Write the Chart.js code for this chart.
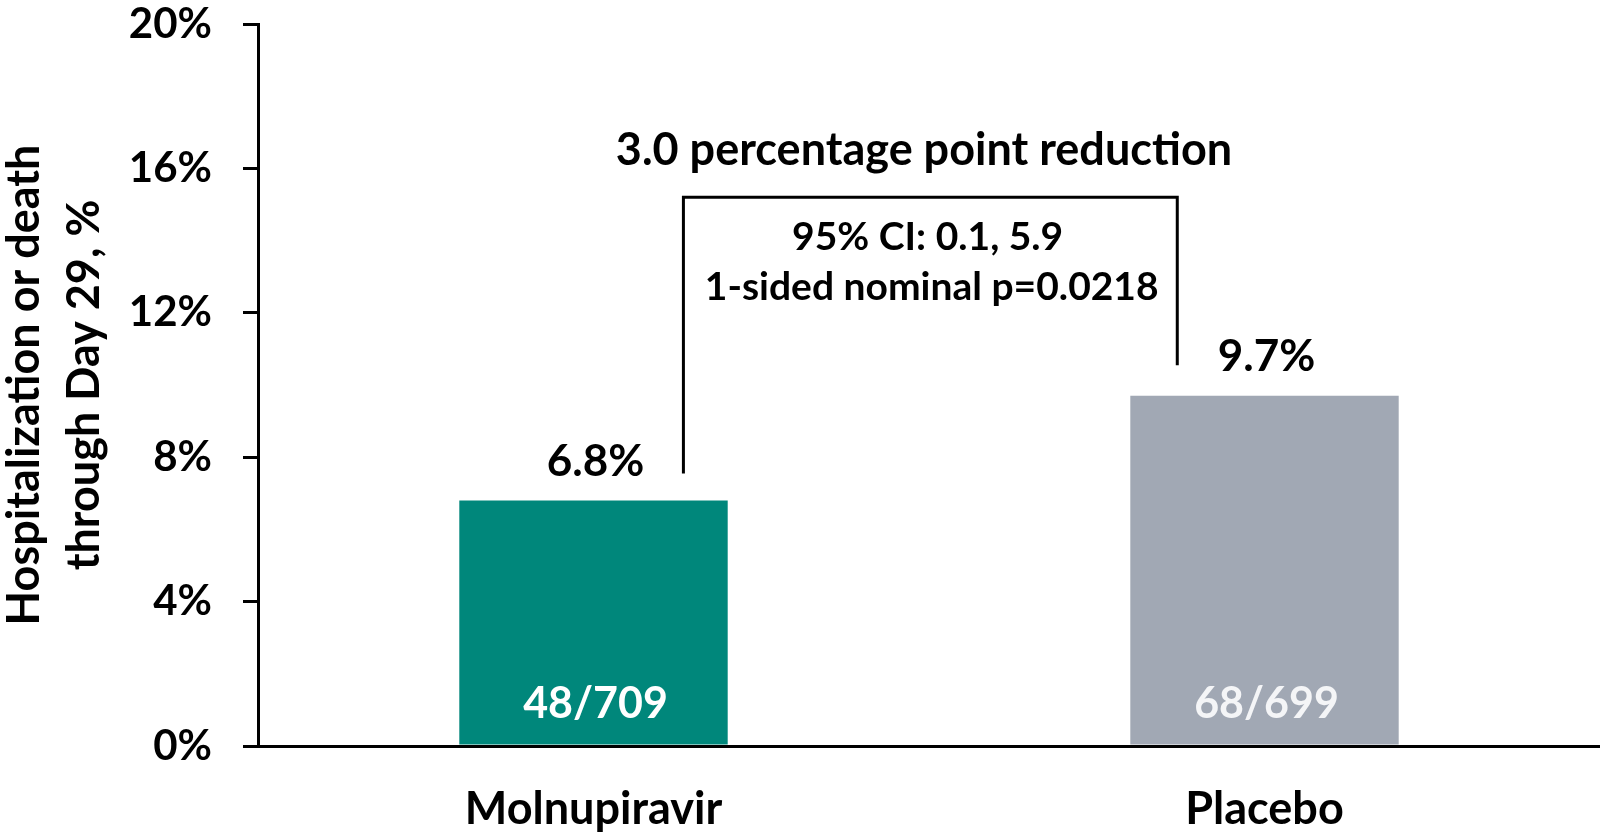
<!DOCTYPE html>
<html>
<head>
<meta charset="utf-8">
<script src="https://cdn.jsdelivr.net/npm/chart.js@4.4.1/dist/chart.umd.min.js"></script>
<style>
  html, body { margin: 0; padding: 0; background: #fff; }
  #wrap { width: 1600px; height: 836px; }
</style>
</head>
<body>
<div id="wrap"><canvas id="chart" width="1600" height="836"></canvas></div>
<script>
// data
const categories = ["Molnupiravir", "Placebo"];
const rates = [6.8, 9.7];
const counts = ["48/709", "68/699"];
const barColors = ["#00877b", "#a1a8b4"];
const countColors = ["#ffffff", "#f4f5f7"];
const yTicks = [0, 4, 8, 12, 16, 20];

const bracketTitle = "3.0 percentage point reduction";
const bracketLines = ["95% CI: 0.1, 5.9", "1-sided nominal p=0.0218"];

const FONT = "Lato, 'Open Sans', sans-serif";

// draws the % over each bar, the n/N inside, and the bracket between bars
const labelPlugin = {
  id: "labels",
  afterDatasetsDraw(chart) {
    const ctx = chart.ctx;
    const meta = chart.getDatasetMeta(0);
    const x = chart.scales.x;
    const y = chart.scales.y;
    ctx.save();
    ctx.textAlign = "center";
    ctx.textBaseline = "middle";
    meta.data.forEach((bar, i) => {
      ctx.fillStyle = "#000";
      ctx.font = "bold 44px " + FONT;
      ctx.fillText(rates[i].toFixed(1) + "%", bar.x + 2, bar.y - 39);
      ctx.fillStyle = countColors[i];
      ctx.font = "bold 43px " + FONT;
      ctx.fillText(counts[i], bar.x + 2, bar.base - 40);
    });

    // bracket (x in category units, y in % units)
    const xl = x.getPixelForValue(0.134);
    const xr = x.getPixelForValue(0.870);
    const yTop = y.getPixelForValue(15.2);
    ctx.strokeStyle = "#000";
    ctx.lineWidth = 3;
    ctx.beginPath();
    ctx.moveTo(xl, y.getPixelForValue(7.55));
    ctx.lineTo(xl, yTop);
    ctx.lineTo(xr, yTop);
    ctx.lineTo(xr, y.getPixelForValue(10.55));
    ctx.stroke();

    ctx.fillStyle = "#000";
    ctx.font = "bold 45px " + FONT;
    ctx.fillText(bracketTitle, x.getPixelForValue(0.4925), y.getPixelForValue(16.5));
    ctx.font = "bold 39px " + FONT;
    ctx.fillText(bracketLines[0], x.getPixelForValue(0.498), y.getPixelForValue(14.1));
    ctx.fillText(bracketLines[1], x.getPixelForValue(0.504), y.getPixelForValue(12.7));
    ctx.restore();
  }
};

new Chart(document.getElementById("chart"), {
  type: "bar",
  plugins: [labelPlugin],
  data: {
    labels: categories,
    datasets: [{
      data: rates,
      backgroundColor: barColors,
      borderWidth: 0,
      barPercentage: 0.4,
      categoryPercentage: 1
    }]
  },
  options: {
    responsive: false,
    animation: false,
    layout: { padding: { top: 24, right: 0, left: 0, bottom: 0 } },
    plugins: { legend: { display: false }, tooltip: { enabled: false } },
    scales: {
      x: {
        grid: { display: false, drawTicks: false },
        border: { display: true, color: "#000", width: 3 },
        ticks: { color: "#000", padding: 36, font: { family: FONT, size: 45, weight: "bold" } },
        afterFit: (s) => { s.height = 90; s.paddingLeft = 0; s.paddingRight = 0; }
      },
      y: {
        min: 0,
        max: 20,
        afterBuildTicks: (s) => { s.ticks = yTicks.map(v => ({ value: v })); },
        grid: { drawOnChartArea: false, drawTicks: true, tickLength: 15, color: "#000", lineWidth: 3 },
        border: { display: true, color: "#000", width: 3 },
        ticks: {
          color: "#000",
          padding: 31,
          font: { family: FONT, size: 42, weight: "bold" },
          callback: (v) => v + "%"
        },
        title: {
          display: true,
          text: ["Hospitalization or death", "through Day 29, %"],
          color: "#000",
          padding: { top: -6, bottom: 0 },
          font: { family: FONT, size: 45, weight: "bold", lineHeight: "60px" }
        },
        afterFit: (s) => { s.width = 258; s.paddingTop = 0; s.paddingBottom = 0; }
      }
    }
  }
});
</script>
</body>
</html>
